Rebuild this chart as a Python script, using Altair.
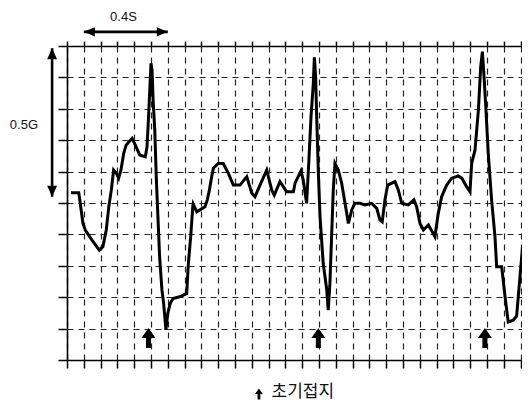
import altair as alt
import pandas as pd

# ---- data (time in s, acceleration in G) ----
time_s = [0.019, 0.056, 0.063, 0.076, 0.087, 0.119, 0.154, 0.171, 0.187, 0.199,
          0.211, 0.222, 0.235, 0.246, 0.257, 0.270, 0.282, 0.310, 0.325, 0.346,
          0.373, 0.381, 0.386, 0.392, 0.400, 0.405, 0.410, 0.418, 0.425, 0.433,
          0.441, 0.452, 0.460, 0.471, 0.480, 0.492, 0.505, 0.540, 0.570, 0.578,
          0.589, 0.599, 0.601, 0.618, 0.633, 0.657, 0.668, 0.678, 0.689, 0.697,
          0.720, 0.744, 0.768, 0.792, 0.824, 0.856, 0.880, 0.895, 0.919, 0.951,
          0.975, 0.987, 1.014, 1.046, 1.078, 1.086, 1.114, 1.125, 1.141, 1.152,
          1.162, 1.173, 1.178, 1.184, 1.189, 1.197, 1.205, 1.220, 1.237, 1.244,
          1.252, 1.260, 1.268, 1.276, 1.292, 1.308, 1.324, 1.340, 1.356, 1.371,
          1.395, 1.419, 1.451, 1.475, 1.490, 1.501, 1.514, 1.527, 1.562, 1.578,
          1.594, 1.625, 1.652, 1.665, 1.681, 1.697, 1.721, 1.752, 1.768, 1.784,
          1.808, 1.832, 1.863, 1.880, 1.903, 1.919, 1.927, 1.943, 1.959, 1.970,
          1.978, 1.986, 1.995, 2.006, 2.022, 2.038, 2.046, 2.070, 2.086, 2.101,
          2.125, 2.141, 2.157, 2.170, 2.181, 2.192, 2.205]
accel_g = [0.533, 0.533, 0.499, 0.435, 0.414, 0.382, 0.350, 0.361, 0.414, 0.488,
           0.541, 0.605, 0.595, 0.579, 0.605, 0.658, 0.685, 0.706, 0.685, 0.653,
           0.647, 0.679, 0.743, 0.828, 0.945, 0.924, 0.828, 0.732, 0.584, 0.456,
           0.329, 0.223, 0.181, 0.096, 0.149, 0.181, 0.196, 0.202, 0.212, 0.308,
           0.393, 0.488, 0.497, 0.472, 0.478, 0.488, 0.510, 0.541, 0.584, 0.611,
           0.626, 0.626, 0.595, 0.557, 0.557, 0.584, 0.531, 0.520, 0.557, 0.605,
           0.541, 0.525, 0.568, 0.536, 0.536, 0.563, 0.602, 0.573, 0.499, 0.637,
           0.775, 0.881, 0.964, 0.902, 0.775, 0.595, 0.456, 0.308, 0.223, 0.159,
           0.244, 0.393, 0.541, 0.626, 0.605, 0.563, 0.499, 0.435, 0.478, 0.499,
           0.499, 0.494, 0.499, 0.483, 0.446, 0.440, 0.510, 0.557, 0.568, 0.541,
           0.499, 0.494, 0.510, 0.488, 0.435, 0.414, 0.430, 0.393, 0.467, 0.520,
           0.557, 0.579, 0.586, 0.579, 0.552, 0.536, 0.626, 0.669, 0.796, 0.934,
           0.982, 0.902, 0.796, 0.658, 0.510, 0.393, 0.297, 0.297, 0.202, 0.121,
           0.127, 0.140, 0.265, 0.366, 0.312, 0.245, 0.175]

# initial contact markers
contact_s = [0.388, 1.197, 1.990]
contact_g = [0.070, 0.070, 0.070]

# texts
legend_label = "초기접지"
span_label = "0.4S"
amp_label = "0.5G"

# scale-bar annotations (data units)
span_start, span_end, span_level = 0.08, 0.48, 1.045
amp_pos, amp_top, amp_bottom = -0.071, 0.993, 0.52
span_label_pos = [0.269, 1.091]
amp_label_pos = [-0.205, 0.748]
legend_arrow_pos = [0.914, -0.108]
legend_text_pos = [0.974, -0.102]

x_ticks = [round(0.08 * k, 2) for k in range(28)]
y_ticks = [round(0.1 * k, 1) for k in range(11)]
X_DOMAIN = [0, 2.1667]   # visible part of the record (455 px at 210 px/s)
Y_DOMAIN = [0, 1.0]

xs = alt.Scale(domain=X_DOMAIN, nice=False, zero=False)
ys = alt.Scale(domain=Y_DOMAIN, nice=False, zero=False)

UP_ARROW = "M0,-1 L0.7,0 L0.25,0 L0.25,1 L-0.25,1 L-0.25,0 L-0.7,0 Z"
HEAD_RIGHT = "M0,0 L-2,-0.85 L-2,0.85 Z"
HEAD_LEFT = "M0,0 L2,-0.85 L2,0.85 Z"
HEAD_UP = "M0,0 L-0.9,2 L0.9,2 Z"
HEAD_DOWN = "M0,0 L-0.9,-2 L0.9,-2 Z"

common_axis = dict(labels=False, title=None, domainColor="black", domainWidth=1.6,
                   tickColor="black", tickWidth=1.5)
grid_style = dict(grid=True, gridColor="#222222", gridWidth=1.2, gridDash=[6, 5])

wave = pd.DataFrame({"t": time_s, "g": accel_g})

line = alt.Chart(wave).mark_line(color="black", strokeWidth=3).encode(
    x=alt.X("t:Q", scale=xs,
            axis=alt.Axis(orient="top", values=x_ticks, tickSize=5, **common_axis, **grid_style)),
    y=alt.Y("g:Q", scale=ys,
            axis=alt.Axis(orient="left", values=y_ticks, tickSize=9, **common_axis, **grid_style)),
)

contacts = alt.Chart(pd.DataFrame({"t": contact_s, "g": contact_g})).mark_point(
    shape=UP_ARROW, filled=True, size=400, color="black", opacity=1, strokeWidth=0
).encode(
    x=alt.X("t:Q", scale=xs,
            axis=alt.Axis(orient="bottom", values=x_ticks, tickSize=8, grid=False, **common_axis)),
    y=alt.Y("g:Q", scale=ys, axis=None),
)

span_df = pd.DataFrame({"t": [span_start], "t2": [span_end], "g": [span_level]})
span_rule = alt.Chart(span_df).mark_rule(color="black", strokeWidth=2.6).encode(
    x=alt.X("t:Q", scale=xs, axis=None), x2="t2:Q", y=alt.Y("g:Q", scale=ys, axis=None))
span_l = alt.Chart(pd.DataFrame({"t": [span_start], "g": [span_level]})).mark_point(
    shape=HEAD_LEFT, filled=True, size=121, color="black", opacity=1, strokeWidth=0).encode(
    x=alt.X("t:Q", scale=xs, axis=None), y=alt.Y("g:Q", scale=ys, axis=None))
span_r = alt.Chart(pd.DataFrame({"t": [span_end], "g": [span_level]})).mark_point(
    shape=HEAD_RIGHT, filled=True, size=121, color="black", opacity=1, strokeWidth=0).encode(
    x=alt.X("t:Q", scale=xs, axis=None), y=alt.Y("g:Q", scale=ys, axis=None))

amp_df = pd.DataFrame({"t": [amp_pos], "g": [amp_top], "g2": [amp_bottom]})
amp_rule = alt.Chart(amp_df).mark_rule(color="black", strokeWidth=2.6).encode(
    x=alt.X("t:Q", scale=xs, axis=None), y=alt.Y("g:Q", scale=ys, axis=None), y2="g2:Q")
amp_u = alt.Chart(pd.DataFrame({"t": [amp_pos], "g": [amp_top]})).mark_point(
    shape=HEAD_UP, filled=True, size=121, color="black", opacity=1, strokeWidth=0).encode(
    x=alt.X("t:Q", scale=xs, axis=None), y=alt.Y("g:Q", scale=ys, axis=None))
amp_d = alt.Chart(pd.DataFrame({"t": [amp_pos], "g": [amp_bottom]})).mark_point(
    shape=HEAD_DOWN, filled=True, size=121, color="black", opacity=1, strokeWidth=0).encode(
    x=alt.X("t:Q", scale=xs, axis=None), y=alt.Y("g:Q", scale=ys, axis=None))

labels_df = pd.DataFrame({
    "t": [span_label_pos[0], amp_label_pos[0]],
    "g": [span_label_pos[1], amp_label_pos[1]],
    "txt": [span_label, amp_label],
})
labels = alt.Chart(labels_df).mark_text(
    font="Liberation Sans", fontSize=13, color="#111111", align="center", baseline="middle"
).encode(x=alt.X("t:Q", scale=xs, axis=None), y=alt.Y("g:Q", scale=ys, axis=None), text="txt:N")

leg_arrow = alt.Chart(pd.DataFrame({"t": [legend_arrow_pos[0]], "g": [legend_arrow_pos[1]]})).mark_point(
    shape=UP_ARROW, filled=True, size=121, color="black", opacity=1, strokeWidth=0).encode(
    x=alt.X("t:Q", scale=xs, axis=None), y=alt.Y("g:Q", scale=ys, axis=None))
leg_text = alt.Chart(pd.DataFrame({"t": [legend_text_pos[0]], "g": [legend_text_pos[1]],
                                   "txt": [legend_label]})).mark_text(
    font="Noto Sans CJK KR", fontSize=17, color="#111111", align="left", baseline="middle"
).encode(x=alt.X("t:Q", scale=xs, axis=None), y=alt.Y("g:Q", scale=ys, axis=None), text="txt:N")

chart = alt.layer(
    line, contacts, span_rule, span_l, span_r, amp_rule, amp_u, amp_d, labels, leg_arrow, leg_text
).resolve_axis(x="independent", y="independent").properties(
    width=455, height=314,
    autosize=alt.AutoSizeParams(type="none"),
    padding={"left": 59, "top": 38, "right": 0, "bottom": 43},
    background="white",
).configure_view(stroke=None)

chart.save("out.html", embed_options={"renderer": "svg", "actions": False})
